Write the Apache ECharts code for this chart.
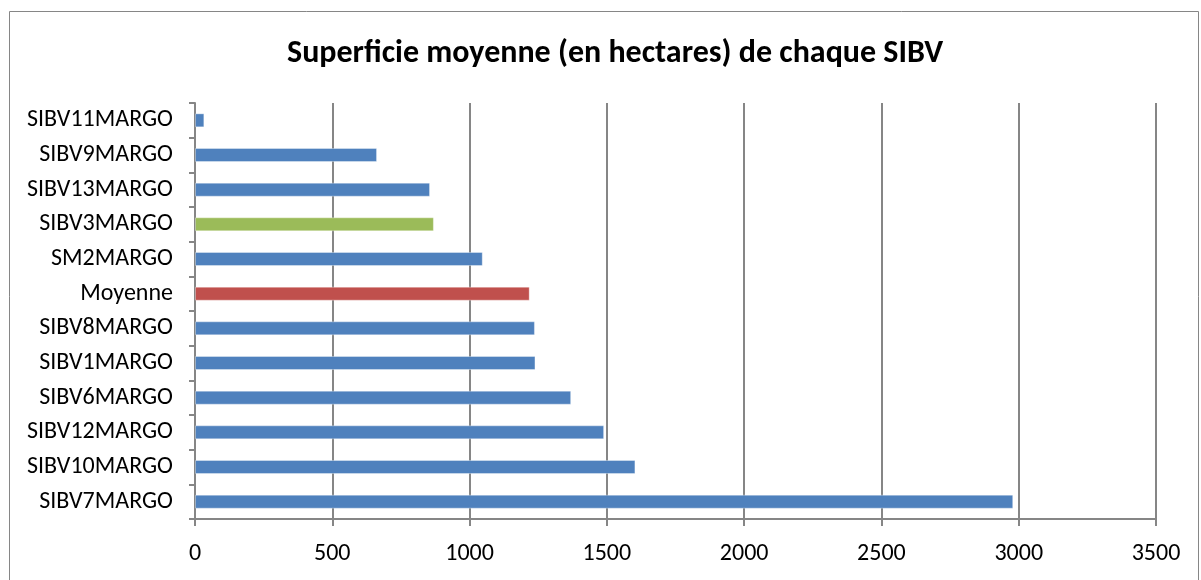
<!DOCTYPE html>
<html lang="fr">
<head>
  <meta charset="UTF-8">
  <title>Superficie moyenne</title>
  <style>
    html, body { margin: 0; padding: 0; background: #fff; }
  </style>
</head>
<body>
  <div class="wrapper" style="width:1201px;height:580px;"></div>

  <script src="https://cdn.jsdelivr.net/npm/echarts@6/dist/echarts.min.js"></script>
  <script>
    // categories top to bottom
    const categories = ['SIBV11MARGO', 'SIBV9MARGO', 'SIBV13MARGO', 'SIBV3MARGO', 'SM2MARGO', 'Moyenne',
      'SIBV8MARGO', 'SIBV1MARGO', 'SIBV6MARGO', 'SIBV12MARGO', 'SIBV10MARGO', 'SIBV7MARGO']
    const values = [34, 663, 856, 870, 1048, 1219, 1238, 1240, 1370, 1490, 1604, 2980]
    const colors = ['#4F81BD', '#4F81BD', '#4F81BD', '#9BBB59', '#4F81BD', '#C0504D',
      '#4F81BD', '#4F81BD', '#4F81BD', '#4F81BD', '#4F81BD', '#4F81BD']
    const xTicks = [0, 500, 1000, 1500, 2000, 2500, 3000, 3500]

    const font = 'Carlito, "Open Sans", "Liberation Sans", sans-serif'
    const echart = echarts.init(document.querySelector('.wrapper'))

    const option = {
      animation: false,
      title: {
        text: 'Superficie moyenne (en hectares) de chaque SIBV',
        left: 282,
        top: 33,
        textStyle: { fontFamily: font, fontSize: 32, fontWeight: 'bold', color: '#000' }
      },
      graphic: [{
        type: 'rect',
        shape: { x: 9.5, y: 11.5, width: 1189, height: 580 },
        style: { fill: 'none', stroke: '#868686', lineWidth: 1 },
        silent: true
      }],
      grid: { left: 195, right: 45, top: 103, bottom: 61 },
      xAxis: {
        type: 'value',
        min: xTicks[0],
        max: xTicks[xTicks.length - 1],
        interval: 500,
        axisLine: { show: true, lineStyle: { color: '#868686', width: 2 } },
        axisTick: { show: true, length: 7, lineStyle: { color: '#868686', width: 2 } },
        splitLine: { show: true, lineStyle: { color: '#868686', width: 2 } },
        axisLabel: { color: '#000', fontFamily: font, fontSize: 24, margin: 23, formatter: v => String(v) }
      },
      yAxis: {
        type: 'category',
        data: categories,
        inverse: true,
        axisLine: { show: true, lineStyle: { color: '#868686', width: 2 } },
        axisTick: { show: true, length: 6, lineStyle: { color: '#868686', width: 2 } },
        axisLabel: { color: '#000', fontFamily: font, fontSize: 24, margin: 22 }
      },
      series: [{
        type: 'bar',
        barWidth: 14,
        data: values.map((v, i) => ({ value: v, itemStyle: { color: colors[i] } })),
        itemStyle: { borderColor: 'rgba(255,255,255,0.35)', borderWidth: 1 }
      }]
    }

    echart.setOption(option)
  </script>
</body>
</html>
